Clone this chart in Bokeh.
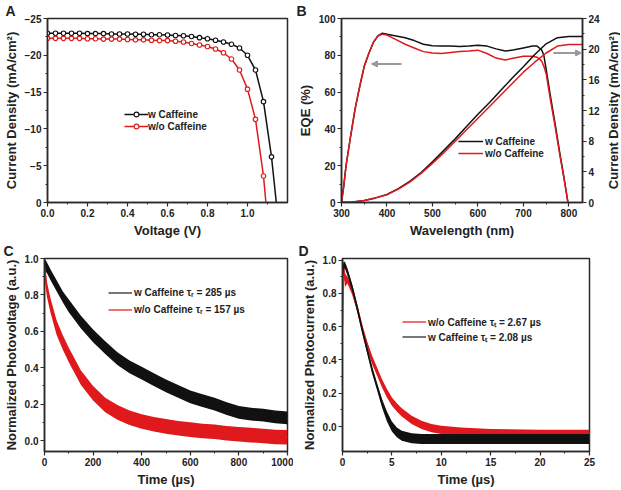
from bokeh.plotting import figure
from bokeh.models import (Range1d, LinearAxis, Legend, LegendItem, Title, Arrow, NormalHead,
                          FixedTicker, NumeralTickFormatter)
from bokeh.layouts import column, row
from bokeh.embed import file_html
from bokeh.resources import INLINE

# ---------------- data ----------------
# A: J-V
V = [0.00, 0.04, 0.08, 0.12, 0.16, 0.20, 0.24, 0.28, 0.32, 0.36, 0.40, 0.44, 0.48, 0.52, 0.56, 0.60,
     0.64, 0.68, 0.72, 0.76, 0.80, 0.84, 0.88, 0.92, 0.96, 1.00, 1.04, 1.08, 1.12]
J_w = [-23.0, -23.0, -23.0, -23.0, -23.0, -22.95, -22.95, -22.95, -22.9, -22.9, -22.9, -22.85, -22.85, -22.8,
       -22.8, -22.75, -22.7, -22.65, -22.55, -22.4, -22.25, -22.05, -21.8, -21.5, -21.0, -20.0, -18.0, -13.7, -6.2]
V_wo = V[:-1]
J_wo = [-22.3, -22.3, -22.3, -22.3, -22.3, -22.25, -22.25, -22.2, -22.2, -22.2, -22.15, -22.1, -22.1, -22.05,
        -22.0, -22.0, -21.9, -21.8, -21.6, -21.4, -21.2, -20.85, -20.35, -19.5, -18.0, -15.4, -11.3, -3.6]
voc_w = 1.144
voc_wo = 1.092

# B: EQE and integrated current
wl = [300, 305, 310, 320, 330, 340, 350, 360, 370, 380, 390, 400, 420, 440, 460, 480, 500, 520, 540, 560,
      580, 600, 620, 640, 660, 680, 700, 720, 730, 740, 745, 750, 760, 770, 780, 790, 798]
eqe_w = [0, 9, 20, 36, 51, 63, 74, 81, 87, 90.5, 92, 91.5, 90.5, 89.5, 88, 86, 85.2, 85, 85, 84.8,
         85, 85.5, 85, 83.5, 82.3, 83, 84, 85, 85, 83, 80, 72.5, 57, 42.5, 27, 12.5, 0]
eqe_wo = [0, 9, 20, 36, 51, 63, 74, 81, 87, 90.5, 91.5, 91, 88.5, 86, 84, 82, 81.2, 81, 81.5, 82,
          82.3, 82.8, 81, 78.5, 77.5, 78.5, 79.5, 79.5, 79, 77, 74, 70, 55, 41, 26, 12, 0]
wl_j = [300, 325, 350, 375, 400, 425, 450, 475, 500, 525, 550, 575, 600, 625, 650, 675, 700, 725, 750,
        775, 800, 830]
jsc_w = [0, 0.05, 0.25, 0.6, 1.05, 1.8, 2.75, 3.9, 5.3, 6.8, 8.3, 9.9, 11.5, 13.0, 14.6, 16.2, 17.7, 19.3,
         20.7, 21.5, 21.65, 21.65]
jsc_wo = [0, 0.05, 0.25, 0.6, 1.0, 1.75, 2.65, 3.8, 5.1, 6.5, 8.0, 9.5, 11.0, 12.5, 14.0, 15.5, 17.0, 18.3,
          19.5, 20.4, 20.6, 20.6]

# C: transient photovoltage (noisy band: lower / middle / upper)
t_c = [0, 10, 25, 50, 75, 100, 150, 200, 250, 300, 350, 400, 450, 500, 550, 600, 650, 700, 750, 800,
       850, 900, 950, 1000]
c_w_mid = [0.97, 0.95, 0.91, 0.85, 0.79, 0.74, 0.65, 0.575, 0.51, 0.45, 0.405, 0.37, 0.335, 0.30, 0.27,
           0.24, 0.22, 0.2, 0.175, 0.155, 0.145, 0.14, 0.13, 0.125]
c_w_hi = [1.0, 0.98, 0.94, 0.88, 0.82, 0.775, 0.685, 0.61, 0.545, 0.485, 0.44, 0.405, 0.37, 0.335, 0.305,
          0.275, 0.255, 0.235, 0.21, 0.19, 0.18, 0.175, 0.165, 0.16]
c_w_lo = [0.93, 0.92, 0.88, 0.82, 0.76, 0.705, 0.615, 0.54, 0.475, 0.415, 0.37, 0.335, 0.3, 0.265, 0.235,
          0.205, 0.185, 0.165, 0.14, 0.12, 0.11, 0.105, 0.095, 0.09]
c_wo_mid = [0.95, 0.83, 0.74, 0.62, 0.54, 0.47, 0.345, 0.26, 0.195, 0.155, 0.125, 0.105, 0.09, 0.078,
            0.068, 0.06, 0.053, 0.048, 0.04, 0.035, 0.03, 0.025, 0.02, 0.018]
c_wo_hi = [0.99, 0.87, 0.78, 0.66, 0.58, 0.51, 0.385, 0.3, 0.235, 0.195, 0.165, 0.145, 0.13, 0.118, 0.108,
           0.1, 0.093, 0.088, 0.08, 0.075, 0.07, 0.065, 0.06, 0.058]
c_wo_lo = [0.9, 0.79, 0.7, 0.58, 0.5, 0.43, 0.305, 0.22, 0.155, 0.115, 0.085, 0.065, 0.05, 0.038, 0.028,
           0.02, 0.013, 0.008, 0.0, -0.005, -0.01, -0.015, -0.02, -0.022]

# D: transient photocurrent
t_d = [0, 0.1, 0.25, 0.5, 1, 1.5, 2, 2.5, 3, 3.5, 4, 4.5, 5, 5.5, 6, 7, 8, 9, 10, 12, 15, 20, 25]
d_w_mid = [0.9, 0.97, 0.97, 0.93, 0.83, 0.71, 0.58, 0.46, 0.34, 0.24, 0.14, 0.06, 0.0, -0.035, -0.055,
           -0.07, -0.075, -0.075, -0.075, -0.075, -0.075, -0.075, -0.075]
d_w_hi = [0.93, 0.99, 0.99, 0.95, 0.85, 0.73, 0.6, 0.48, 0.36, 0.26, 0.165, 0.09, 0.03, -0.005, -0.025,
          -0.04, -0.045, -0.045, -0.045, -0.045, -0.045, -0.045, -0.045]
d_w_lo = [0.87, 0.95, 0.95, 0.91, 0.81, 0.69, 0.56, 0.44, 0.32, 0.22, 0.115, 0.03, -0.03, -0.065, -0.085,
          -0.1, -0.105, -0.105, -0.105, -0.105, -0.105, -0.105, -0.105]
d_wo_mid = [0.6, 0.97, 0.88, 0.88, 0.81, 0.71, 0.59, 0.49, 0.40, 0.33, 0.26, 0.2, 0.15, 0.115, 0.085,
            0.04, 0.01, -0.01, -0.02, -0.03, -0.04, -0.045, -0.045]
d_wo_hi = [0.62, 1.0, 0.92, 0.9, 0.83, 0.73, 0.61, 0.51, 0.425, 0.355, 0.285, 0.225, 0.175, 0.14, 0.11,
           0.065, 0.035, 0.015, 0.005, -0.005, -0.015, -0.02, -0.02]
d_wo_lo = [0.58, 0.94, 0.84, 0.86, 0.79, 0.69, 0.57, 0.47, 0.375, 0.305, 0.235, 0.175, 0.125, 0.09, 0.06,
           0.015, -0.015, -0.035, -0.045, -0.055, -0.065, -0.07, -0.07]

labels_A = ["w Caffeine", "w/o Caffeine"]
labels_C = ["w Caffeine \u03c4\u1d63 = 285 \u00b5s", "w/o Caffeine \u03c4\u1d63 = 157 \u00b5s"]
labels_D = ["w/o Caffeine \u03c4\u209c = 2.67 \u00b5s", "w Caffeine \u03c4\u209c = 2.08 \u00b5s"]
jsc_label = "Current Density (mA/cm\u00b2)"

# ---------------- style ----------------
BLACK = "#111111"
RED = "#e0191c"
FONT = "Liberation Sans"
AX = "#2a2a2a"
TXT = "#222222"
LH = 0.6


def style(p):
    p.outline_line_color = AX
    p.outline_line_width = 1.5
    p.outline_line_alpha = 1
    p.xgrid.visible = False
    p.ygrid.visible = False
    p.background_fill_color = "white"
    p.border_fill_color = "white"
    for ax in p.axis:
        ax.axis_line_color = AX
        ax.axis_line_width = 1.5
        ax.major_tick_line_color = AX
        ax.minor_tick_line_color = AX
        ax.major_tick_line_width = 1.2
        ax.minor_tick_line_width = 1.0
        ax.major_tick_out = 4
        ax.major_tick_in = 0
        ax.minor_tick_out = 2
        ax.minor_tick_in = 0
        ax.major_label_text_font = FONT
        ax.major_label_text_font_style = "bold"
        ax.major_label_text_font_size = "10px"
        ax.major_label_text_color = TXT
        ax.major_label_standoff = 2
        ax.axis_label_text_font = FONT
        ax.axis_label_text_font_style = "bold"
        ax.axis_label_text_font_size = "13px"
        ax.axis_label_text_color = TXT
        ax.axis_label_standoff = 3


def letter(p, text, offset):
    p.title = Title(text=text, align="left", offset=offset, standoff=0, text_font=FONT,
                    text_font_size="14px", text_font_style="bold", text_color=TXT,
                    text_line_height=LH)


def legend(p, items, x, y, h, gw, standoff):
    lg = Legend(items=items, location=(x, y), padding=0, margin=0, spacing=0,
                label_height=h, glyph_height=h, glyph_width=gw, label_standoff=standoff,
                label_text_font=FONT, label_text_font_style="bold", label_text_font_size="10px",
                label_text_color=TXT, background_fill_alpha=0, border_line_alpha=0)
    p.add_layout(lg, "center")


def ticks(lo, hi, step, nminor):
    n = int(round((hi - lo) / step))
    major = [lo + i * step for i in range(n + 1)]
    minor = [lo + (i + k / nminor) * step for i in range(n) for k in range(1, nminor)]
    return FixedTicker(ticks=major, minor_ticks=minor)


common = dict(output_backend="svg", toolbar_location=None)
ONE_DEC = NumeralTickFormatter(format="0.0")

# ---------------- A ----------------
pA = figure(width=293, height=240, x_range=Range1d(0, 1.2), y_range=Range1d(0, -25),
            min_border_left=45, min_border_right=6, min_border_top=13, min_border_bottom=33, **common)
lw = pA.line(V + [voc_w], J_w + [0], line_color=BLACK, line_width=1.5)
sw = pA.scatter(V, J_w, marker="circle", size=4.5, fill_color="white", line_color=BLACK, line_width=1.1)
lr = pA.line(V_wo + [voc_wo], J_wo + [0], line_color=RED, line_width=1.5)
sr = pA.scatter(V_wo, J_wo, marker="circle", size=4.5, fill_color="white", line_color=RED, line_width=1.1)
pA.xaxis.ticker = ticks(0, 1.2, 0.2, 2)
pA.xaxis.formatter = ONE_DEC
pA.yaxis.ticker = ticks(-25, 0, 5, 2)
pA.xaxis.axis_label = "Voltage (V)"
pA.yaxis.axis_label = jsc_label
style(pA)
legend(pA, [LegendItem(label=labels_A[0], renderers=[lw, sw]),
            LegendItem(label=labels_A[1], renderers=[lr, sr])], 77, 70, 12, 24, 0)
letter(pA, "A", -42)

# ---------------- B ----------------
pB = figure(width=309, height=240, x_range=Range1d(300, 830), y_range=Range1d(0, 100),
            min_border_left=48, min_border_right=18, min_border_top=14, min_border_bottom=30, **common)
pB.extra_y_ranges = {"j": Range1d(0, 24)}
eb = pB.line(wl, eqe_w, line_color=BLACK, line_width=1.5)
er = pB.line(wl, eqe_wo, line_color=RED, line_width=1.5)
pB.line(wl_j, jsc_w, line_color=BLACK, line_width=1.5, y_range_name="j")
pB.line(wl_j, jsc_wo, line_color=RED, line_width=1.5, y_range_name="j")
rax = LinearAxis(y_range_name="j", ticker=ticks(0, 24, 4, 2))
pB.add_layout(rax, "right")
pB.xaxis.ticker = ticks(300, 800, 100, 2)
pB.yaxis[0].ticker = ticks(0, 100, 20, 2)
pB.xaxis.axis_label = "Wavelength (nm)"
pB.yaxis[0].axis_label = "EQE (%)"
style(pB)
GRAY = "#9a9a9a"
pB.add_layout(Arrow(end=NormalHead(size=6, fill_color=GRAY, line_color=GRAY),
                    x_start=432, y_start=75.3, x_end=366, y_end=75.3, line_color=GRAY, line_width=2))
pB.add_layout(Arrow(end=NormalHead(size=6, fill_color=GRAY, line_color=GRAY),
                    x_start=766, y_start=81.3, x_end=828, y_end=81.3, line_color=GRAY, line_width=2))
legend(pB, [LegendItem(label=labels_A[0], renderers=[eb]),
            LegendItem(label=labels_A[1], renderers=[er])], 117, 43, 12, 25, 2)
letter(pB, "B", -45)

# narrow strip carrying the right-hand axis title of B (reads bottom-to-top)
pBl = figure(width=18, height=240, x_range=Range1d(0, 1), y_range=Range1d(0, 1),
             min_border_left=17, min_border_right=0, min_border_top=14, min_border_bottom=30, **common)
pBl.xaxis.visible = False
pBl.xgrid.visible = False
pBl.ygrid.visible = False
pBl.outline_line_color = None
pBl.yaxis.ticker = FixedTicker(ticks=[])
pBl.yaxis.axis_line_color = None
pBl.yaxis.major_tick_line_color = None
pBl.yaxis.minor_tick_line_color = None
pBl.yaxis.axis_label = jsc_label
pBl.yaxis.axis_label_text_font = FONT
pBl.yaxis.axis_label_text_font_style = "bold"
pBl.yaxis.axis_label_text_font_size = "13px"
pBl.yaxis.axis_label_text_color = TXT
pBl.yaxis.axis_label_standoff = 0
pBl.title = Title(text=" ", standoff=0, text_font_size="14px", text_line_height=LH)

# ---------------- C ----------------
pC = figure(width=293, height=249, x_range=Range1d(0, 1000), y_range=Range1d(-0.06, 1.0),
            min_border_left=44, min_border_right=6, min_border_top=14, min_border_bottom=38, **common)
kc_w = pC.line(t_c, c_w_mid, line_color="#777777", line_width=2)
kc_wo = pC.line(t_c, c_wo_mid, line_color="#ee7070", line_width=2)
pC.varea(x=t_c, y1=c_w_lo, y2=c_w_hi, fill_color=BLACK, fill_alpha=1.0)
pC.line(t_c, c_w_mid, line_color=BLACK, line_width=1)
pC.varea(x=t_c, y1=c_wo_lo, y2=c_wo_hi, fill_color=RED, fill_alpha=1.0)
pC.line(t_c, c_wo_mid, line_color=RED, line_width=1)
pC.xaxis.ticker = ticks(0, 1000, 200, 2)
pC.yaxis.ticker = ticks(0, 1.0, 0.2, 2)
pC.yaxis.formatter = ONE_DEC
pC.xaxis.axis_label = "Time (\u00b5s)"
pC.yaxis.axis_label = "Normalized Photovoltage (a.u.)"
style(pC)
legend(pC, [LegendItem(label=labels_C[0], renderers=[kc_w]),
            LegendItem(label=labels_C[1], renderers=[kc_wo])], 64, 133, 17, 24, 2)
letter(pC, "C", -41)

# ---------------- D ----------------
pD = figure(width=327, height=249, x_range=Range1d(0, 25), y_range=Range1d(-0.15, 1.01),
            min_border_left=49, min_border_right=31, min_border_top=14, min_border_bottom=33, **common)
kd_wo = pD.line(t_d, d_wo_mid, line_color="#ee7070", line_width=2)
kd_w = pD.line(t_d, d_w_mid, line_color="#777777", line_width=2)
pD.varea(x=t_d, y1=d_wo_lo, y2=d_wo_hi, fill_color=RED, fill_alpha=1.0)
pD.line(t_d, d_wo_mid, line_color=RED, line_width=1)
pD.varea(x=t_d, y1=d_w_lo, y2=d_w_hi, fill_color=BLACK, fill_alpha=1.0)
pD.line(t_d, d_w_mid, line_color=BLACK, line_width=1)
pD.xaxis.ticker = ticks(0, 25, 5, 2)
pD.yaxis.ticker = ticks(0, 1.0, 0.2, 2)
pD.yaxis.formatter = ONE_DEC
pD.xaxis.axis_label = "Time (\u00b5s)"
pD.yaxis.axis_label = "Normalized Photocurrent (a.u.)"
style(pD)
legend(pD, [LegendItem(label=labels_D[0], renderers=[kd_wo]),
            LegendItem(label=labels_D[1], renderers=[kd_w])], 60, 107, 15, 24, 2)
letter(pD, "D", -44)

layout = column(row(pA, pB, pBl), row(pC, pD))
open("out.html", "w").write(file_html(layout, INLINE))
